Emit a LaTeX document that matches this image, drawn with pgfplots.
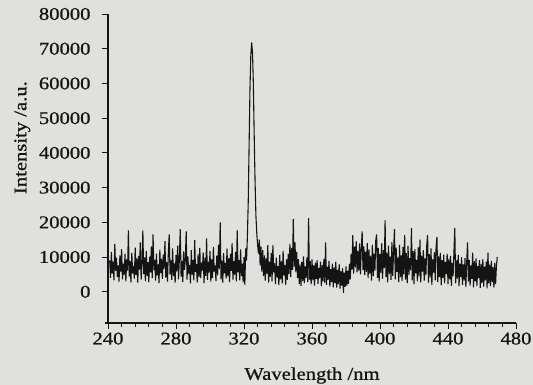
\documentclass[border=0pt]{standalone}
\usepackage{fontspec}
\setmainfont{Liberation Serif}[FakeStretch=1.15, FakeBold=0.8]
\usepackage{pgfplots}
\pgfplotsset{compat=1.18}
\definecolor{bg}{RGB}{224,224,222}
\definecolor{ink}{RGB}{20,20,20}
\newcommand{\lblfont}{\fontsize{18}{21}\selectfont}
\begin{document}
\begin{tikzpicture}
\path[use as bounding box, fill=bg] (-108bp,-62bp) rectangle (425bp,323bp);
\begin{axis}[
  scale only axis, width=408bp, height=309bp,
  xmin=240, xmax=480, ymin=-9000, ymax=80000,
  axis line style={draw=none},
  xtick={240,280,...,480}, minor x tick num=4,
  ytick={0,10000,...,80000},
  xtick pos=left, ytick pos=left,
  tick align=outside,
  major tick length=6bp, minor tick length=4bp,
  every tick/.style={ink, line width=0.9pt},
  every minor tick/.style={ink, line width=0.9pt},
  scaled y ticks=false,
  /pgf/number format/assume math mode=true,
  yticklabel style={/pgf/number format/fixed, /pgf/number format/1000 sep={}, font=\lblfont, text=ink, xshift=-8bp},
  xticklabel style={font=\lblfont, text=ink},
  every axis y label/.style={at={(axis description cs:-0.21,0.6)}, rotate=90, anchor=center, font=\lblfont, text=ink},
  every axis x label/.style={at={(axis description cs:0.5,-0.17)}, anchor=center, font=\lblfont, text=ink},
  xlabel={Wavelength /nm},
  ylabel={Intensity /a.u.},
  clip=false,
]
\draw[ink, line width=1.1pt] (rel axis cs:0,1) -- (rel axis cs:0,0);
\draw[ink, line width=1.1pt] (rel axis cs:-0.008,0) -- (rel axis cs:1,0);
\pgfplotsinvokeforeach{240,248,...,480}{\draw[ink, line width=0.9pt] (axis cs:#1,-9000) -- ([yshift=-4bp]axis cs:#1,-9000);}
\pgfplotsinvokeforeach{240,280,...,480}{\draw[ink, line width=0.9pt] (axis cs:#1,-9000) -- ([yshift=-6bp]axis cs:#1,-9000);}
\addplot[ink, line width=1.1pt, mark=none, line join=miter, miter limit=2] coordinates {
(241,9000)(241.5,4000)(242,11500)(242.5,5200)(243,8700)(243.5,3300)(244,13800)(244.5,6000)(245,9800)(245.5,4200)
(246,7600)(246.5,2900)(247,10500)(247.5,5800)(248,12300)(248.5,3600)(249,8100)(249.5,4800)(250,10900)(250.5,3000)
(251,9300)(251.5,6100)(252,17700)(252.5,4400)(253,8800)(253.5,2700)(254,11200)(254.5,5300)(255,7400)(255.5,3800)
(256,12700)(256.5,4900)(257,9600)(257.5,2600)(258,10300)(258.5,6400)(259,14200)(259.5,3500)(260,8300)(260.5,17700)
(261,5100)(261.5,9900)(262,3100)(262.5,11800)(263,4600)(263.5,8500)(264,2800)(264.5,10100)(265,5600)(265.5,13100)
(266,3900)(266.5,16500)(267,6200)(267.5,9200)(268,3200)(268.5,11000)(269,4700)(269.5,7900)(270,2500)(270.5,12100)
(271,5400)(271.5,9500)(272,3700)(272.5,10700)(273,6600)(273.5,14600)(274,4100)(274.5,8600)(275,2900)(275.5,11400)
(276,16500)(276.5,5000)(277,9000)(277.5,3400)(278,12500)(278.5,4500)(279,8200)(279.5,2600)(280,10600)(280.5,5900)
(281,13300)(281.5,3600)(282,9700)(282.5,18000)(283,4300)(283.5,8900)(284,2800)(284.5,11600)(285,6300)(285.5,9400)
(286,17400)(286.5,3500)(287,10200)(287.5,5200)(288,7700)(288.5,2400)(289,12000)(289.5,4800)(290,9100)(290.5,3300)
(291,14900)(291.5,5700)(292,8000)(292.5,2700)(293,10800)(293.5,4200)(294,12600)(294.5,3900)(295,8400)(295.5,6100)
(296,11300)(296.5,2500)(297,9800)(297.5,4600)(298,15400)(298.5,3400)(299,8700)(299.5,5500)(300,11700)(300.5,2900)
(301,9300)(301.5,4000)(302,12900)(302.5,5800)(303,7600)(303.5,3100)(304,10400)(304.5,4700)(305,13600)(305.5,6500)
(306,20000)(306.5,3600)(307,9000)(307.5,2600)(308,11100)(308.5,5300)(309,8300)(309.5,3800)(310,12400)(310.5,4400)
(311,9600)(311.5,2800)(312,10900)(312.5,6000)(313,14000)(313.5,3500)(314,8800)(314.5,4900)(315,11500)(315.5,3000)
(316,17700)(316.5,5600)(317,9200)(317.5,3300)(318,12200)(318.5,4500)(319,8100)(319.5,2700)(320,10000)(320.5,2000)
(321,12500)(321.5,9000)(322,16000)(322.5,26000)(323,42000)(323.5,58000)(324,68000)(324.5,71800)(325,69000)(325.5,60000)
(326,45000)(326.5,32000)(327,22000)(327.5,17000)(328,13500)(328.5,11000)(329,15000)(329.5,7500)(330,13000)(330.5,5800)
(331,12000)(331.5,4500)(332,10500)(332.5,3200)(333,9600)(333.5,5200)(334,13400)(334.5,2600)(335,8700)(335.5,4300)
(336,11200)(336.5,3000)(337,13400)(337.5,5600)(338,8200)(338.5,2200)(339,9800)(339.5,4100)(340,7400)(340.5,1900)
(341,10600)(341.5,3600)(342,8900)(342.5,2400)(343,11800)(343.5,4700)(344,7700)(344.5,2000)(345,9300)(345.5,3400)
(346,10900)(346.5,5100)(347,13800)(347.5,4200)(348,12600)(348.5,6300)(349,21000)(349.5,7200)(350,14200)(350.5,5600)
(351,11500)(351.5,3900)(352,9400)(352.5,2200)(353,7800)(353.5,1700)(354,8600)(354.5,3100)(355,10200)(355.5,2500)
(356,7300)(356.5,4000)(357,9900)(357.5,2800)(358,21200)(358.5,3500)(359,8800)(359.5,2100)(360,9300)(360.5,3300)
(361,7600)(361.5,1800)(362,8400)(362.5,3700)(363,9100)(363.5,2300)(364,6900)(364.5,3900)(365,8700)(365.5,1600)
(366,7700)(366.5,3000)(367,9400)(367.5,2600)(368,14200)(368.5,2000)(369,7200)(369.5,3400)(370,8900)(370.5,1500)
(371,6500)(371.5,2800)(372,8100)(372.5,1300)(373,7000)(373.5,2500)(374,8600)(374.5,1200)(375,6300)(375.5,2100)
(376,7900)(376.5,900)(377,5900)(377.5,1800)(378,6800)(378.5,-300)(379,5500)(379.5,1400)(380,7300)(380.5,1700)
(381,6100)(381.5,2300)(382,8000)(382.5,3600)(383,11000)(383.5,6400)(384,16300)(384.5,5200)(385,13000)(385.5,7000)
(386,14500)(386.5,5600)(387,11800)(387.5,6100)(388,13900)(388.5,5000)(389,12400)(389.5,17400)(390,6200)(390.5,13100)
(391,4800)(391.5,11500)(392,5700)(392.5,14000)(393,3900)(393.5,12200)(394,5300)(394.5,10400)(395,3200)(395.5,13600)
(396,4500)(396.5,11000)(397,6000)(397.5,14800)(398,16500)(398.5,4000)(399,12600)(399.5,2900)(400,10900)(400.5,5400)
(401,13900)(401.5,3700)(402,12000)(402.5,6800)(403,20600)(403.5,4300)(404,11300)(404.5,2700)(405,13300)(405.5,5100)
(406,10100)(406.5,3400)(407,14300)(407.5,4600)(408,11900)(408.5,18000)(409,3600)(409.5,12700)(410,5700)(410.5,9800)
(411,2800)(411.5,13500)(412,4200)(412.5,10500)(413,3100)(413.5,12900)(414,5000)(414.5,16300)(415,3500)(415.5,11100)
(416,2500)(416.5,13200)(417,4800)(417.5,9700)(418,6200)(418.5,18300)(419,3300)(419.5,11700)(420,2200)(420.5,12300)
(421,5300)(421.5,9200)(422,3000)(422.5,12800)(423,4400)(423.5,15000)(424,2700)(424.5,10400)(425,5800)(425.5,12000)
(426,3200)(426.5,9600)(427,4700)(427.5,13400)(428,16300)(428.5,2600)(429,10800)(429.5,4100)(430,12500)(430.5,2000)
(431,9300)(431.5,5500)(432,11400)(432.5,3300)(433,13000)(433.5,15700)(434,2800)(434.5,10200)(435,4300)(435.5,11200)
(436,1900)(436.5,9100)(437,3900)(437.5,10700)(438,2500)(438.5,8600)(439,5100)(439.5,11000)(440,2200)(440.5,9500)
(441,3600)(441.5,10300)(442,1700)(442.5,8300)(443,4500)(443.5,11500)(444,18300)(444.5,2400)(445,9000)(445.5,3800)
(446,10600)(446.5,1600)(447,8200)(447.5,4200)(448,10000)(448.5,2000)(449,7900)(449.5,3200)(450,9700)(450.5,1400)
(451,8500)(451.5,14200)(452,2900)(452.5,9200)(453,1800)(453.5,7600)(454,3700)(454.5,11300)(455,1300)(455.5,8800)
(456,3000)(456.5,9600)(457,1700)(457.5,7400)(458,4000)(458.5,9100)(459,1100)(459.5,8000)(460,2600)(460.5,9400)
(461,1500)(461.5,7200)(462,3300)(462.5,8700)(463,1000)(463.5,11300)(464,2400)(464.5,7800)(465,1600)(465.5,8900)
(466,2800)(466.5,7100)(467,1200)(467.5,8300)(468,2200)(468.5,7600)(469,10000)
};
\end{axis}
\end{tikzpicture}
\end{document}
